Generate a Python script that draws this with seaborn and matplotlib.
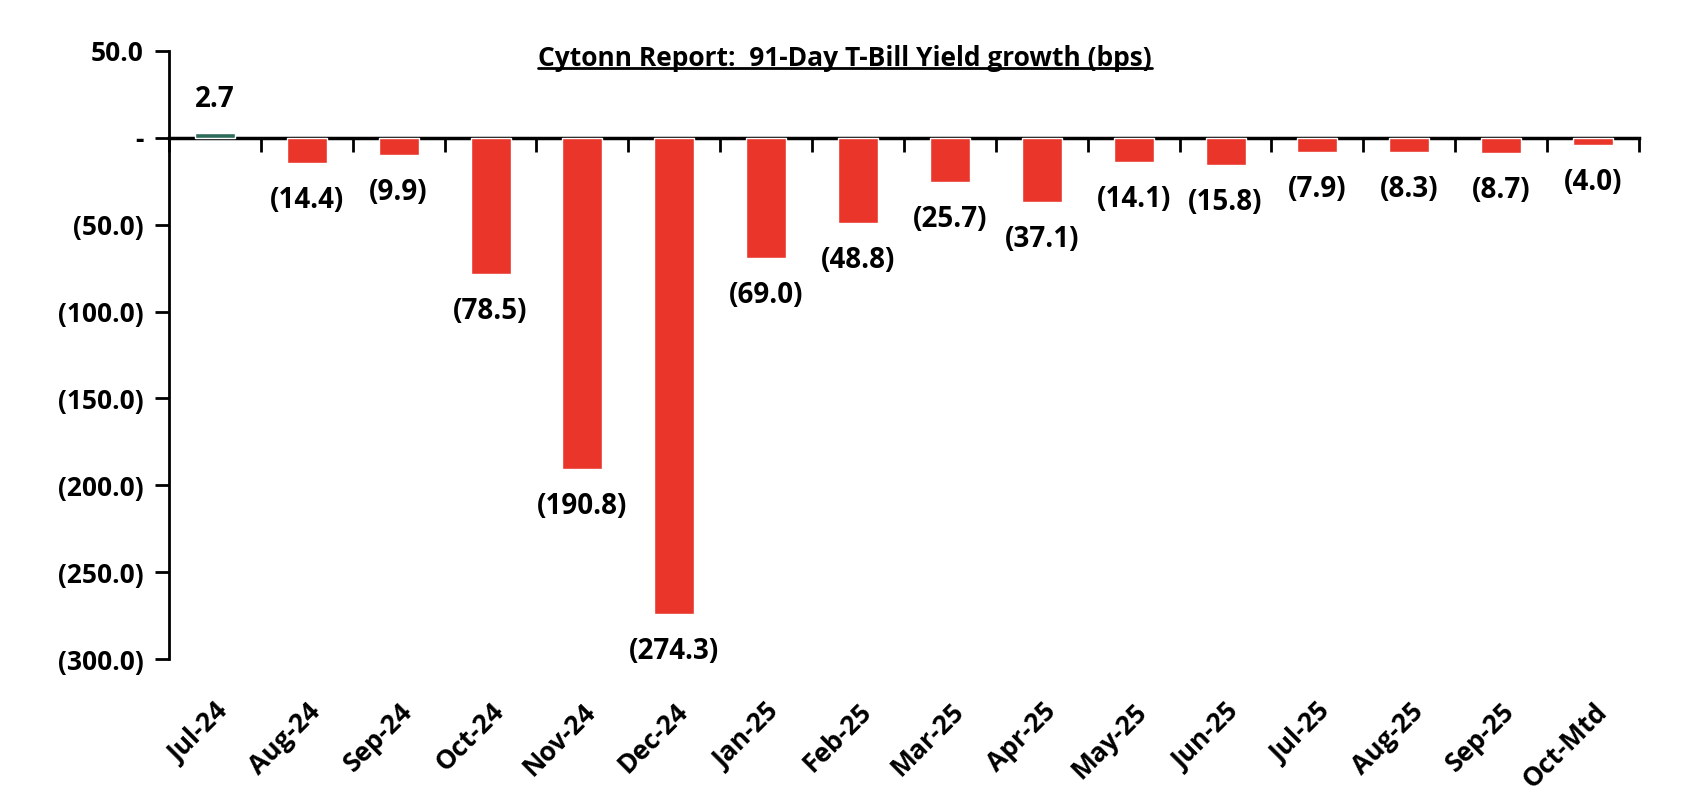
import matplotlib
matplotlib.use("Agg")
import matplotlib.pyplot as plt
import matplotlib.ticker as mticker
import seaborn as sns
import pandas as pd

months = ["Jul-24", "Aug-24", "Sep-24", "Oct-24", "Nov-24", "Dec-24", "Jan-25", "Feb-25",
          "Mar-25", "Apr-25", "May-25", "Jun-25", "Jul-25", "Aug-25", "Sep-25", "Oct-Mtd"]
growth_bps = [2.7, -14.4, -9.9, -78.5, -190.8, -274.3, -69.0, -48.8,
              -25.7, -37.1, -14.1, -15.8, -7.9, -8.3, -8.7, -4.0]
y_ticks = [50, 0, -50, -100, -150, -200, -250, -300]
title = "Cytonn Report:  91-Day T-Bill Yield growth (bps)"

RED = "#E9352A"
GREEN = "#2E6B5A"
FONT = "Open Sans"
FS = 19


def fmt_num(v, pos=None):
    if abs(v) < 1e-9:
        return "-"
    if v < 0:
        return f"({abs(v):.1f})"
    return f"{v:.1f}"


sns.set_style("white")
plt.rcParams["font.family"] = [FONT, "DejaVu Sans"]
plt.rcParams["font.weight"] = "bold"
for key in ["text.color", "axes.labelcolor", "xtick.color", "ytick.color"]:
    plt.rcParams[key] = "black"

df = pd.DataFrame({"month": months, "growth": growth_bps})
colors = [GREEN if v > 0 else RED for v in growth_bps]

fig = plt.figure(figsize=(16.9, 8.08), dpi=100)
ax = fig.add_axes([0.1, 0.1844, 0.8698, 0.7525])

sns.barplot(data=df, x="month", y="growth", hue="month", palette=colors,
            width=0.435, legend=False, ax=ax, saturation=1)

ax.set_xlim(-0.5, len(months) - 0.5)
ax.set_ylim(min(y_ticks), max(y_ticks))
ax.set_yticks(y_ticks)
ax.yaxis.set_major_formatter(mticker.FuncFormatter(fmt_num))
ax.tick_params(axis="y", direction="out", length=10, width=2, labelsize=FS, pad=8,
               left=True, color="black", labelcolor="black")
for lbl in ax.get_yticklabels():
    lbl.set_fontweight("bold")

# category labels at the bottom
ax.set_xticks(range(len(months)))
ax.set_xticklabels(months, rotation=45, ha="right", rotation_mode="anchor",
                   fontsize=FS, fontweight="bold", color="black")
ax.tick_params(axis="x", length=0, pad=28)
ax.set_xlabel("")
ax.set_ylabel("")

for side in ["top", "right", "bottom"]:
    ax.spines[side].set_visible(False)
ax.spines["left"].set_linewidth(2)
ax.spines["left"].set_color("black")

# zero line with boundary ticks
zero_ax = ax.secondary_xaxis(0, transform=ax.transData)
zero_ax.set_xticks([i + 0.5 for i in range(-1, len(months))])
zero_ax.set_xticklabels([])
zero_ax.tick_params(direction="out", length=10, width=2, color="black")
zero_ax.spines["bottom"].set_linewidth(2.5)
zero_ax.spines["bottom"].set_color("black")

# data labels
for i, v in enumerate(growth_bps):
    off = 24 if v > 0 else -27
    ax.annotate(fmt_num(v), xy=(i, v), xytext=(0, off), textcoords="offset points",
                ha="center", va="center", fontsize=FS + 1, fontweight="bold", color="black")

# underlined title
t = fig.text(0.5, 0.928, title, ha="center", va="center", fontsize=FS,
             fontweight="bold", color="black")
fig.canvas.draw()
bb = t.get_window_extent().transformed(fig.transFigure.inverted())
fig.add_artist(plt.Line2D([bb.x0, bb.x1], [bb.y0 + 0.004, bb.y0 + 0.004],
                          transform=fig.transFigure, color="black", lw=2))

fig.savefig("out.png", dpi=100)
